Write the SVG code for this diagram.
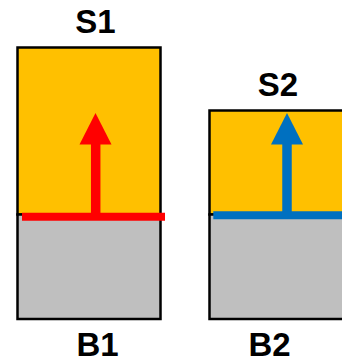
<svg xmlns="http://www.w3.org/2000/svg" width="342" height="359" viewBox="0 0 342 359">
  <style>
    .lbl { font-family: "Liberation Sans", Arial, sans-serif; font-weight: bold; font-size: 33px; fill: #000; text-anchor: middle; }
    .top { fill: #FFC000; stroke: #000; stroke-width: 2.5; }
    .bot { fill: #BFBFBF; stroke: #000; stroke-width: 2.5; }
  </style>
  <rect width="342" height="359" fill="#fff"/>
  <g id="S1">
    <rect class="top" x="17.5" y="47.5" width="143" height="167"/>
    <text class="lbl" x="95.5" y="33">S1</text>
  </g>
  <g id="B1">
    <rect class="bot" x="17.5" y="214.5" width="143" height="104.5"/>
    <text class="lbl" x="97.5" y="355.5">B1</text>
  </g>
  <g id="S2">
    <rect class="top" x="209.5" y="110.5" width="140" height="104"/>
    <text class="lbl" x="278" y="96">S2</text>
  </g>
  <g id="B2">
    <rect class="bot" x="209.5" y="214.5" width="140" height="104.5"/>
    <text class="lbl" x="269.5" y="356">B2</text>
  </g>
  <g id="connectors">
    <line x1="22" y1="216.7" x2="165" y2="216.7" stroke="#FF0000" stroke-width="8"/>
    <line x1="95.7" y1="216" x2="95.7" y2="143" stroke="#FF0000" stroke-width="9.5"/>
    <polygon points="95.5,113 79.5,144.5 111.5,144.5" fill="#FF0000"/>
    <line x1="213.3" y1="215.2" x2="342" y2="215.2" stroke="#0070C0" stroke-width="8"/>
    <line x1="287" y1="215" x2="287" y2="143" stroke="#0070C0" stroke-width="9.5"/>
    <polygon points="287,113 271,144.5 303,144.5" fill="#0070C0"/>
  </g>
</svg>
